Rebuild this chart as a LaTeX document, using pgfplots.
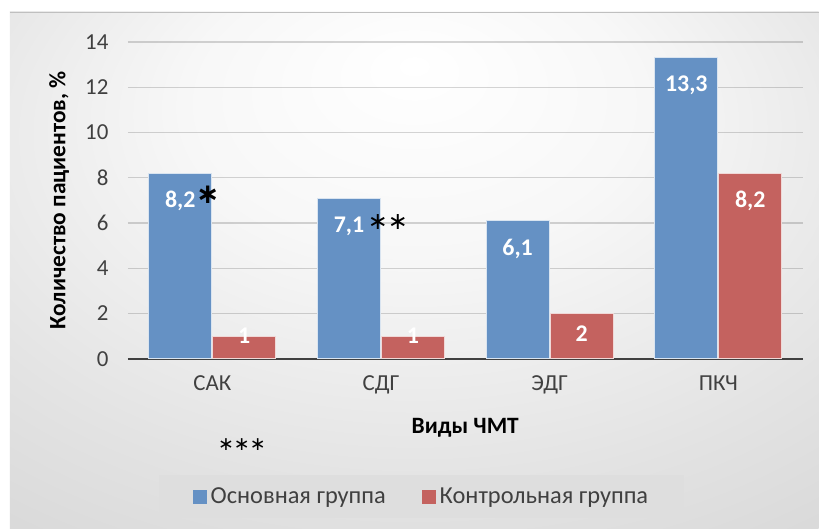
\documentclass[border=0pt]{standalone}
\usepackage{pgfplots}
\pgfplotsset{compat=1.18}
\usepackage{fontspec}
\setmainfont{Carlito}
\newfontfamily\symfont{DejaVu Sans}
\definecolor{barblue}{RGB}{101,145,196}
\definecolor{barred}{RGB}{196,98,95}
\definecolor{basec}{RGB}{64,64,64}
\definecolor{txt}{RGB}{64,64,64}
\definecolor{legfill}{RGB}{222,222,222}
\pgfdeclareradialshading{bgshade}{\pgfpoint{0bp}{20bp}}{color(0bp)=(white); color(14bp)=(white!97!black); color(32bp)=(white!89!black); color(50bp)=(white!82!black); color(70bp)=(white!76!black)}
\begin{document}
\begin{tikzpicture}[x=1bp,y=1bp]
\fill[white] (0,0) rectangle (819,529);
\shade[shading=bgshade] (10,0) rectangle (819,517);
\draw[gray!50, line width=0.8bp] (10,517) -- (819,517);
\begin{axis}[
  at={(128bp,170bp)}, anchor=south west,
  scale only axis, width=675bp, height=317bp,
  ymin=0, ymax=14, xmin=-0.5, xmax=3.5,
  ytick={0,2,...,14},
  xtick={0,1,2,3}, xticklabels={САК,СДГ,ЭДГ,ПКЧ},
  ymajorgrids, grid style={black, opacity=0.16, line width=1.3bp},
  axis x line*=bottom, axis y line*=left,
  y axis line style={draw=none},
  x axis line style={basec, line width=2.6bp},
  major tick length=0pt,
  /pgf/number format/use comma,
  /pgf/number format/assume math mode=true,
  ticklabel style={font=\fontsize{23}{27}\selectfont, text=txt},
  yticklabel style={xshift=-16bp},
  xticklabel style={yshift=-13bp},
  xlabel={\bfseries Виды ЧМТ},
  xlabel style={at={(axis description cs:0.5,-0.218)}, anchor=center, font=\fontsize{23.5}{28}\selectfont, text=black},
  ylabel={\bfseries Количество пациентов, \%},
  ylabel style={at={(axis description cs:-0.102,0.5)}, anchor=center, font=\fontsize{23.5}{28}\selectfont, text=black},
  ybar=1bp, bar width=63bp,
  nodes near coords,
  visualization depends on={y \as \rawy},
  nodes near coords style={font=\bfseries\fontsize{24}{28}\selectfont, text=white, anchor=center, yshift={-min(28,max(0,(\rawy-1)*20))}},
  legend columns=2,
  legend style={at={(axis description cs:0.435,-0.435)}, anchor=center, fill=legfill, draw=none, font=\fontsize{24.5}{29}\selectfont, text=txt, inner xsep=34bp, inner ysep=11bp, /tikz/every odd column/.append style={column sep=2bp}, /tikz/every even column/.append style={column sep=34bp}},
  legend image code/.code={\fill[#1, draw=none] (0bp,-7bp) rectangle (14bp,7bp);},
]
\addplot[fill=barblue, draw=white!75!barblue, line width=0.8bp] coordinates {(0,8.2) (1,7.1) (2,6.1) (3,13.3)};
\addplot[fill=barred, draw=white!75!barred, line width=0.8bp] coordinates {(0,1) (1,1) (2,2) (3,8.2)};
\legend{Основная группа, Контрольная группа}
\end{axis}
\node[font=\symfont\bfseries\fontsize{28}{30}\selectfont] at (208,334) {∗};
\node[font=\symfont\fontsize{24}{28}\selectfont] at (388,307) {∗∗};
\node[font=\symfont\fontsize{19}{24}\selectfont] at (242,84) {∗∗∗};
\end{tikzpicture}
\end{document}
